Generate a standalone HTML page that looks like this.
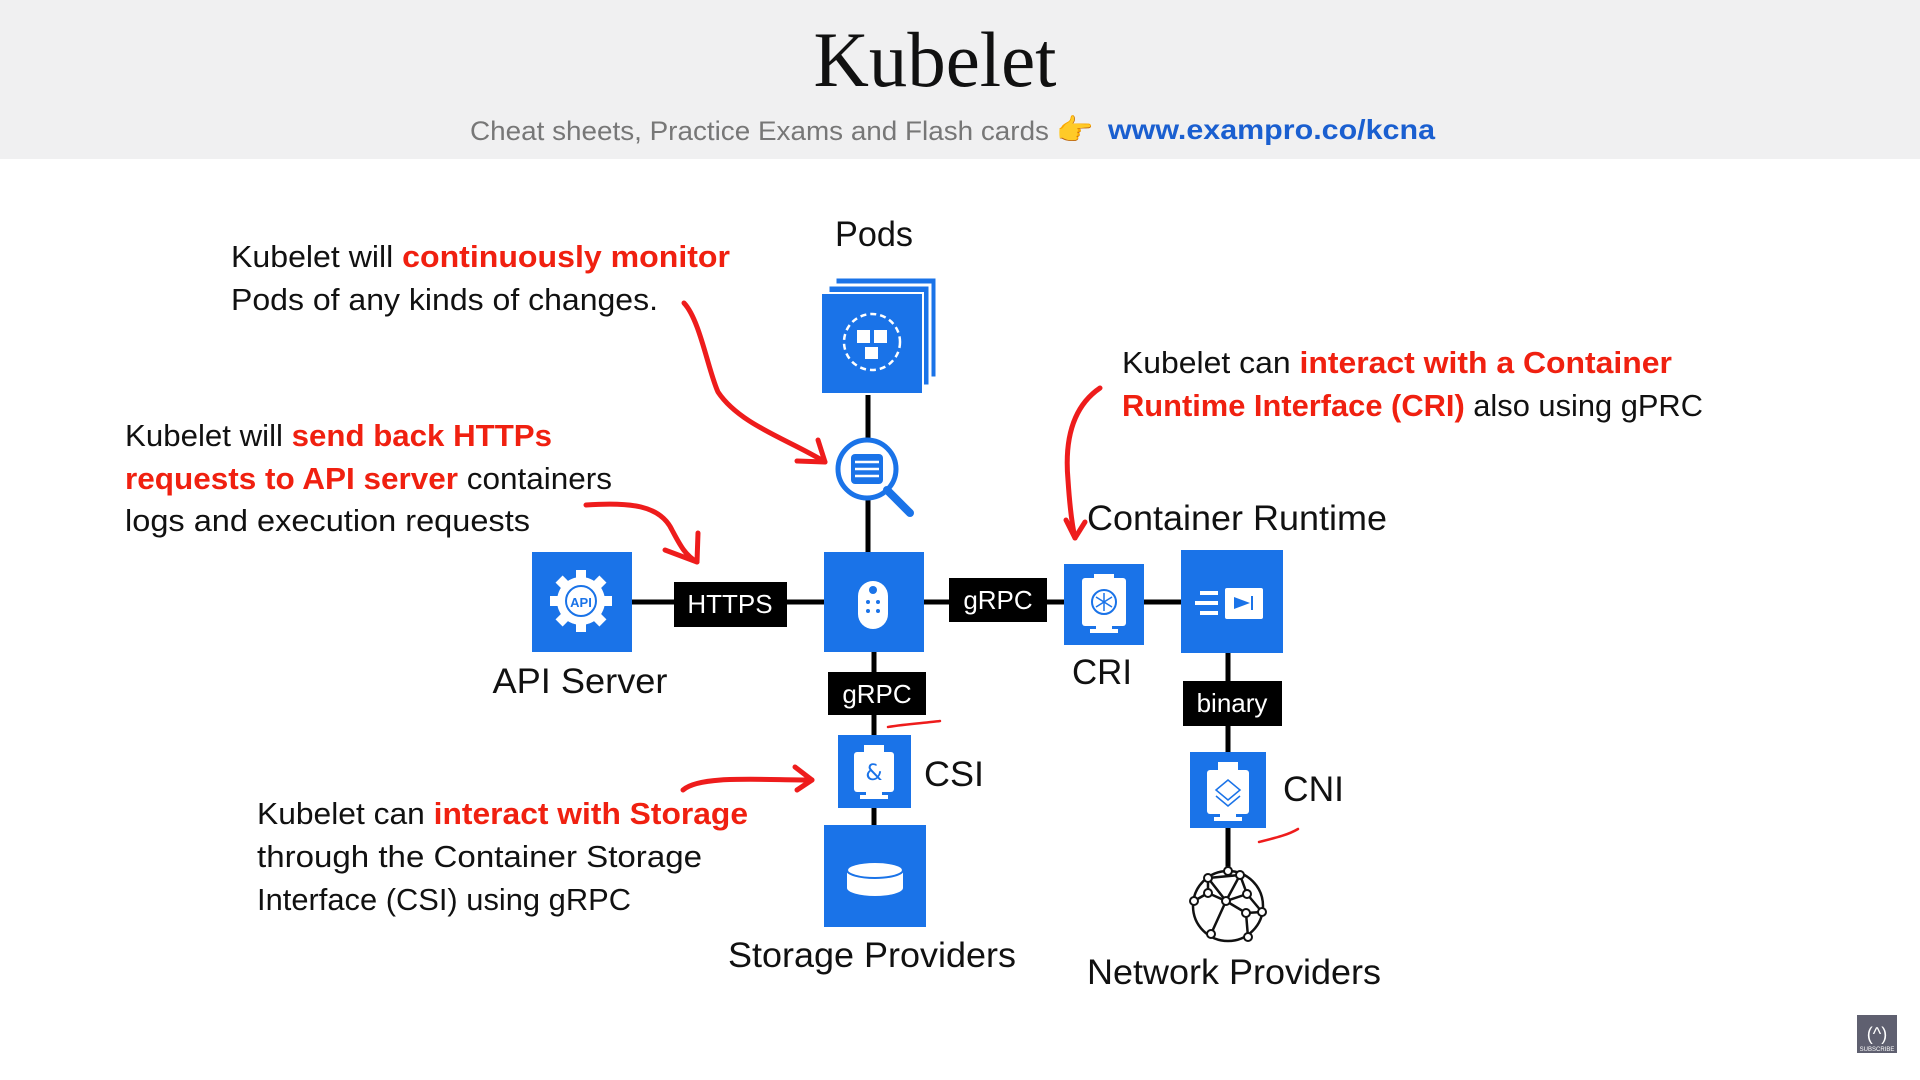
<!DOCTYPE html>
<html><head><meta charset="utf-8"><style>
html,body{margin:0;padding:0;background:#fff;}
svg{display:block;}
.t{font-family:"Liberation Sans",sans-serif;}
</style></head><body>
<svg width="1920" height="1080" viewBox="0 0 1920 1080" xmlns="http://www.w3.org/2000/svg">
<rect x="0" y="0" width="1920" height="159" fill="#f0f0f1"/>
<text x="935" y="86" text-anchor="middle" font-family="Liberation Serif, serif" font-size="78" fill="#111" textLength="243" lengthAdjust="spacingAndGlyphs">Kubelet</text>
<text x="470" y="140" font-family="Liberation Sans, sans-serif" font-size="27" fill="#777" textLength="579" lengthAdjust="spacingAndGlyphs">Cheat sheets, Practice Exams and Flash cards</text>
<text x="1056" y="140" font-family="DejaVu Sans, sans-serif" font-size="30" fill="#f5b21a">👉</text>
<text x="1108" y="139" font-family="Liberation Sans, sans-serif" font-weight="bold" font-size="28" fill="#1a5fd0" textLength="327" lengthAdjust="spacingAndGlyphs">www.exampro.co/kcna</text>

<g stroke="#000" stroke-width="5" fill="none">
<line x1="632" y1="602" x2="1181" y2="602"/>
<line x1="868" y1="394" x2="868" y2="552"/>
<line x1="874" y1="652" x2="874" y2="825"/>
<line x1="1228" y1="653" x2="1228" y2="870"/>
</g>

<rect x="835" y="277" width="102" height="101" fill="#1a73e8" stroke="#fff" stroke-width="3"/>
<rect x="828" y="285" width="102" height="101" fill="#1a73e8" stroke="#fff" stroke-width="3"/>
<rect x="821" y="293" width="102" height="101" fill="#1a73e8" stroke="#fff" stroke-width="2"/>
<circle cx="872" cy="342" r="28" fill="none" stroke="#fff" stroke-width="2.5" stroke-dasharray="6 4"/>
<g fill="#fff"><rect x="857" y="330" width="13" height="13"/><rect x="874" y="330" width="13" height="13"/><rect x="865" y="347" width="13" height="12"/></g>

<circle cx="867" cy="469" r="29" fill="#fff" stroke="#1a73e8" stroke-width="5"/>
<line x1="887" y1="490" x2="910" y2="513" stroke="#1a73e8" stroke-width="8" stroke-linecap="round"/>
<rect x="851" y="454" width="32" height="30" rx="4" fill="#1a73e8"/>
<g stroke="#fff" stroke-width="2.5"><line x1="855" y1="462" x2="879" y2="462"/><line x1="855" y1="469" x2="879" y2="469"/><line x1="855" y1="476" x2="879" y2="476"/></g>

<rect x="532" y="552" width="100" height="100" fill="#1a73e8"/>
<circle cx="581" cy="601" r="24" fill="#fff"/>
<g fill="#fff"><rect x="576" y="570" width="10" height="62"/><rect x="550" y="596" width="62" height="10"/><rect x="576" y="570" width="10" height="62" transform="rotate(45 581 601)"/><rect x="576" y="570" width="10" height="62" transform="rotate(-45 581 601)"/></g>
<circle cx="581" cy="601" r="15" fill="none" stroke="#1a73e8" stroke-width="2"/>
<text x="581" y="607" text-anchor="middle" class="t" font-size="13" font-weight="bold" fill="#1a73e8">API</text>

<rect x="824" y="552" width="100" height="100" fill="#1a73e8"/>
<rect x="858" y="581" width="30" height="48" rx="15" fill="#fff"/>
<circle cx="873" cy="590" r="4" fill="#1a73e8"/>
<g fill="#1a73e8"><circle cx="868" cy="602" r="2"/><circle cx="878" cy="602" r="2"/><circle cx="868" cy="611" r="2"/><circle cx="878" cy="611" r="2"/></g>

<rect x="1064" y="564" width="80" height="81" fill="#1a73e8"/>
<rect x="1082" y="578" width="44" height="48" rx="3" fill="#fff"/>
<rect x="1094" y="574" width="20" height="8" fill="#fff"/>
<rect x="1096" y="624" width="16" height="6" fill="#fff"/><rect x="1090" y="629" width="28" height="4" fill="#fff"/>
<circle cx="1104" cy="602" r="12" fill="none" stroke="#1a73e8" stroke-width="2"/>
<g stroke="#1a73e8" stroke-width="1.5"><line x1="1104" y1="593" x2="1104" y2="611"/><line x1="1096" y1="597" x2="1112" y2="607"/><line x1="1096" y1="607" x2="1112" y2="597"/></g>

<rect x="1181" y="550" width="102" height="103" fill="#1a73e8"/>
<rect x="1225" y="588" width="38" height="31" rx="2" fill="#fff"/>
<g stroke="#fff" stroke-width="4"><line x1="1200" y1="593" x2="1218" y2="593"/><line x1="1195" y1="603" x2="1218" y2="603"/><line x1="1200" y1="613" x2="1218" y2="613"/></g>
<path d="M1234 597 L1250 603 L1234 609 Z" fill="#1a73e8"/><line x1="1252" y1="596" x2="1252" y2="610" stroke="#1a73e8" stroke-width="2"/>

<rect x="1190" y="752" width="76" height="76" fill="#1a73e8"/>
<rect x="1207" y="770" width="42" height="44" rx="3" fill="#fff"/>
<rect x="1218" y="762" width="20" height="9" fill="#fff"/>
<rect x="1220" y="812" width="16" height="6" fill="#fff"/><rect x="1214" y="817" width="28" height="4" fill="#fff"/>
<g fill="none" stroke="#1a73e8" stroke-width="1.5"><path d="M1216 790 L1228 780 L1240 790 L1228 800 Z"/><path d="M1216 796 L1228 806 L1240 796"/></g>

<g fill="none" stroke="#111" stroke-width="2.5">
<circle cx="1228" cy="906" r="35"/>
<path d="M1208 878 L1240 875 L1247 894 L1226 901 L1208 893 Z M1194 901 L1208 893 M1226 901 L1246 913 L1262 912 M1247 894 L1262 912 M1226 901 L1211 934 M1246 913 L1248 937 M1240 875 L1226 901 M1208 878 L1226 901"/>
</g>
<g fill="#fff" stroke="#111" stroke-width="2"><circle cx="1208" cy="878" r="4"/><circle cx="1240" cy="875" r="4"/><circle cx="1226" cy="901" r="4"/><circle cx="1208" cy="893" r="4"/><circle cx="1247" cy="894" r="4"/><circle cx="1246" cy="913" r="4"/><circle cx="1194" cy="901" r="4"/><circle cx="1211" cy="934" r="4"/><circle cx="1248" cy="937" r="4"/><circle cx="1262" cy="912" r="4"/><circle cx="1228" cy="871" r="4"/></g>

<rect x="838" y="735" width="73" height="73" fill="#1a73e8"/>
<rect x="854" y="752" width="40" height="40" rx="3" fill="#fff"/>
<rect x="864" y="745" width="20" height="8" fill="#fff"/>
<rect x="866" y="790" width="16" height="6" fill="#fff"/><rect x="860" y="795" width="28" height="4" fill="#fff"/>
<text x="874" y="780" text-anchor="middle" font-family="DejaVu Sans,sans-serif" font-size="22" fill="#1a73e8">&amp;</text>

<rect x="824" y="825" width="102" height="102" fill="#1a73e8"/>
<rect x="847" y="870" width="56" height="18" fill="#fff"/>
<ellipse cx="875" cy="888" rx="28" ry="8" fill="#fff"/>
<ellipse cx="875" cy="870" rx="28" ry="8" fill="#fff" stroke="#1a73e8" stroke-width="2"/>

<g class="t" font-size="26" fill="#fff" text-anchor="middle">
<rect x="674" y="582" width="113" height="45" fill="#000"/><text x="730" y="613">HTTPS</text>
<rect x="949" y="578" width="98" height="44" fill="#000"/><text x="998" y="609">gRPC</text>
<rect x="828" y="672" width="98" height="43" fill="#000"/><text x="877" y="703">gRPC</text>
<rect x="1183" y="681" width="99" height="45" fill="#000"/><text x="1232" y="712">binary</text>
</g>

<g class="t" fill="#111" font-size="35">
<text x="874" y="246" text-anchor="middle" textLength="78" lengthAdjust="spacingAndGlyphs">Pods</text>
<text x="580" y="693" text-anchor="middle" textLength="175" lengthAdjust="spacingAndGlyphs">API Server</text>
<text x="1102" y="684" text-anchor="middle" textLength="60" lengthAdjust="spacingAndGlyphs">CRI</text>
<text x="1087" y="530" textLength="300" lengthAdjust="spacingAndGlyphs">Container Runtime</text>
<text x="924" y="786" textLength="60" lengthAdjust="spacingAndGlyphs">CSI</text>
<text x="1283" y="801" textLength="61" lengthAdjust="spacingAndGlyphs">CNI</text>
<text x="872" y="967" text-anchor="middle" textLength="288" lengthAdjust="spacingAndGlyphs">Storage Providers</text>
<text x="1234" y="984" text-anchor="middle" textLength="294" lengthAdjust="spacingAndGlyphs">Network Providers</text>
</g>

<g class="t" font-size="31" fill="#111">
<text x="231" y="267" textLength="499" lengthAdjust="spacingAndGlyphs">Kubelet will <tspan fill="#f02010" font-weight="bold">continuously monitor</tspan></text>
<text x="231" y="310" textLength="427" lengthAdjust="spacingAndGlyphs">Pods of any kinds of changes.</text>
<text x="125" y="446" textLength="427" lengthAdjust="spacingAndGlyphs">Kubelet will <tspan fill="#f02010" font-weight="bold">send back HTTPs</tspan></text>
<text x="125" y="489" textLength="487" lengthAdjust="spacingAndGlyphs"><tspan fill="#f02010" font-weight="bold">requests to API server</tspan> containers</text>
<text x="125" y="531" textLength="405" lengthAdjust="spacingAndGlyphs">logs and execution requests</text>
<text x="1122" y="373" textLength="550" lengthAdjust="spacingAndGlyphs">Kubelet can <tspan fill="#f02010" font-weight="bold">interact with a Container</tspan></text>
<text x="1122" y="416" textLength="581" lengthAdjust="spacingAndGlyphs"><tspan fill="#f02010" font-weight="bold">Runtime Interface (CRI)</tspan> also using gPRC</text>
<text x="257" y="824" textLength="491" lengthAdjust="spacingAndGlyphs">Kubelet can <tspan fill="#f02010" font-weight="bold">interact with Storage</tspan></text>
<text x="257" y="867" textLength="445" lengthAdjust="spacingAndGlyphs">through the Container Storage</text>
<text x="257" y="910" textLength="374" lengthAdjust="spacingAndGlyphs">Interface (CSI) using gRPC</text>
</g>

<g stroke="#ee1c1c" stroke-width="5" fill="none" stroke-linecap="round" stroke-linejoin="round">
<path d="M684 303 C700 320 708 370 718 392 C740 425 790 440 825 462"/>
<path d="M797 461 L825 462 L818 440"/>
<path d="M586 505 C630 502 660 505 672 530 C680 545 685 555 697 562"/>
<path d="M665 550 L697 562 L698 533"/>
<path d="M1100 388 C1075 405 1064 435 1068 480 C1070 510 1072 525 1075 538"/>
<path d="M1066 520 L1075 538 L1085 522"/>
<path d="M683 790 C700 775 760 780 812 780"/>
<path d="M795 767 L812 780 L797 790"/>
<path d="M888 727 C905 724 925 723 940 721" stroke-width="2.5"/>
<path d="M1259 842 C1275 838 1288 835 1298 829" stroke-width="2.5"/>
</g>

<rect x="1857" y="1015" width="40" height="38" fill="#5f6070"/>
<text x="1877" y="1040" text-anchor="middle" class="t" font-size="18" fill="#fff">(^)</text>
<text x="1877" y="1051" text-anchor="middle" class="t" font-size="6" fill="#fff">SUBSCRIBE</text>
</svg>
</body></html>
